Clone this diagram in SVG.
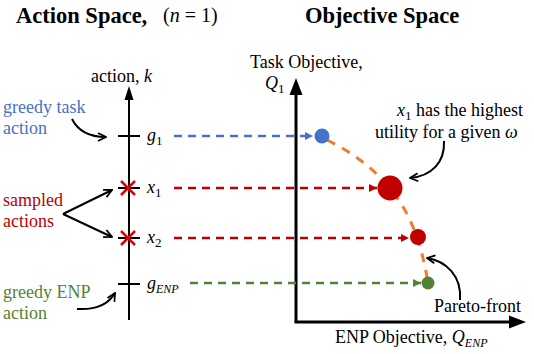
<svg xmlns="http://www.w3.org/2000/svg" width="534" height="354" viewBox="0 0 534 354" font-family="'Liberation Serif', 'Times New Roman', serif">
<defs>
<style>
text{font-family:'Liberation Serif','Times New Roman',serif;font-size:18px;fill:#000}
.title{font-weight:bold;font-size:22.5px}
.m{font-style:italic}
.sub{font-size:13px;font-style:normal}
.subi{font-size:12px;font-style:italic}
.blue{fill:#4472C4}
.red{fill:#C00000}
.green{fill:#548235}
.dash{fill:none;stroke-width:2.5;stroke-dasharray:8 6}
.ax{stroke:#000;fill:none}
.arr{stroke:#000;stroke-width:2;fill:none;marker-end:url(#v)}
.tick{stroke:#000;stroke-width:2}
.cross{stroke:#E00000;stroke-width:2.5}
</style>
<marker id="v" viewBox="0 0 10 10" refX="9" refY="5" markerWidth="5" markerHeight="5" orient="auto" markerUnits="strokeWidth">
<path d="M1,1 L9,5 L1,9" fill="none" stroke="#000" stroke-width="1.8"/>
</marker>
<marker id="tb" viewBox="0 0 10 10" refX="10" refY="5" markerWidth="3.4" markerHeight="3.4" orient="auto" markerUnits="strokeWidth">
<path d="M0,0 L10,5 L0,10 z" fill="#4472C4"/>
</marker>
<marker id="tr" viewBox="0 0 10 10" refX="10" refY="5" markerWidth="3.4" markerHeight="3.4" orient="auto" markerUnits="strokeWidth">
<path d="M0,0 L10,5 L0,10 z" fill="#C00000"/>
</marker>
<marker id="tg" viewBox="0 0 10 10" refX="10" refY="5" markerWidth="3.4" markerHeight="3.4" orient="auto" markerUnits="strokeWidth">
<path d="M0,0 L10,5 L0,10 z" fill="#548235"/>
</marker>
</defs>

<g id="titles" font-family="'Liberation Serif', serif">
<text class="title" x="16" y="23" font-family="'Liberation Serif', serif">Action Space,</text>
<text x="163" y="22" font-family="'Liberation Serif', serif" style="font-size:20px">(<tspan class="m">n</tspan> = 1)</text>
<text class="title" x="305" y="23" font-family="'Liberation Serif', serif">Objective Space</text>
</g>

<g id="action-axis">
<line class="ax" x1="129" y1="98" x2="129" y2="320" stroke-width="2"/>
<path d="M129,86 L133.5,100 L124.5,100 z" fill="#000"/>
<text x="91" y="82" font-family="'Liberation Serif', serif">action, <tspan class="m">k</tspan></text>
</g>

<g id="objective-axes">
<line class="ax" x1="296" y1="93" x2="296" y2="322" stroke-width="3"/>
<line class="ax" x1="294.5" y1="322" x2="512" y2="322" stroke-width="3"/>
<path d="M296,78 L302.5,95 L289.5,95 z" fill="#000"/>
<path d="M526,322 L509,315.5 L509,328.5 z" fill="#000"/>
<text x="250" y="68" font-family="'Liberation Serif', serif">Task Objective,</text>
<text class="m" x="265" y="89" font-family="'Liberation Serif', serif">Q<tspan class="sub" dy="4">1</tspan></text>
<text x="335" y="343" font-family="'Liberation Serif', serif">ENP Objective, <tspan class="m">Q</tspan><tspan class="subi" dy="4">ENP</tspan></text>
</g>

<g id="node-g1">
<line class="tick" x1="118" y1="136" x2="140" y2="136"/>
<text class="m" x="147" y="141" font-family="'Liberation Serif', serif">g<tspan class="sub" dy="4">1</tspan></text>
</g>
<g id="node-x1">
<line class="tick" x1="118" y1="188" x2="140" y2="188"/>
<line class="cross" x1="121" y1="181" x2="135" y2="195"/>
<line class="cross" x1="135" y1="181" x2="121" y2="195"/>
<text class="m" x="147" y="193" font-family="'Liberation Serif', serif">x<tspan class="sub" dy="4">1</tspan></text>
</g>
<g id="node-x2">
<line class="tick" x1="118" y1="238" x2="140" y2="238"/>
<line class="cross" x1="121" y1="231" x2="135" y2="245"/>
<line class="cross" x1="135" y1="231" x2="121" y2="245"/>
<text class="m" x="147" y="243" font-family="'Liberation Serif', serif">x<tspan class="sub" dy="4">2</tspan></text>
</g>
<g id="node-gENP">
<line class="tick" x1="118" y1="284" x2="140" y2="284"/>
<text class="m" x="147" y="289" font-family="'Liberation Serif', serif">g<tspan class="subi" dy="4">ENP</tspan></text>
</g>

<g id="labels-left" font-family="'Liberation Serif', serif">
<text class="blue" x="3" y="113" font-family="'Liberation Serif', serif">greedy task</text>
<text class="blue" x="3" y="134" font-family="'Liberation Serif', serif">action</text>
<text class="red" x="3" y="206" font-family="'Liberation Serif', serif">sampled</text>
<text class="red" x="3" y="227" font-family="'Liberation Serif', serif">actions</text>
<text class="green" x="3" y="298" font-family="'Liberation Serif', serif">greedy ENP</text>
<text class="green" x="3" y="319" font-family="'Liberation Serif', serif">action</text>
</g>

<g id="pareto-curve">
<path d="M327,140 C362,157 392,183 409,218 C418,237 424,258 428,283" fill="none" stroke="#ED7D31" stroke-width="3" stroke-dasharray="9 8"/>
</g>

<g id="point-g1"><circle cx="322" cy="136" r="7.5" fill="#4472C4"/></g>
<g id="point-x1"><circle cx="390" cy="188" r="12.5" fill="#C00000"/></g>
<g id="point-x2"><circle cx="418" cy="237" r="8" fill="#C00000"/></g>
<g id="point-gENP"><circle cx="428" cy="283" r="6.5" fill="#548235"/></g>

<g id="annotations">
<text x="397" y="116" font-family="'Liberation Serif', serif"><tspan class="m">x</tspan><tspan class="sub" dy="4">1</tspan><tspan dy="-4"> has the highest</tspan></text>
<text x="375" y="138" font-family="'Liberation Serif', serif">utility for a given <tspan class="m">ω</tspan></text>
<text x="434" y="312" font-family="'Liberation Serif', serif">Pareto-front</text>
</g>

<g id="connectors">
<line class="dash" x1="174" y1="136" x2="313" y2="136" stroke="#4472C4" marker-end="url(#tb)"/>
<line class="dash" x1="174" y1="188" x2="377" y2="188" stroke="#C00000" marker-end="url(#tr)"/>
<line class="dash" x1="174" y1="238" x2="409" y2="238" stroke="#C00000" marker-end="url(#tr)"/>
<line class="dash" x1="190" y1="283" x2="421" y2="283" stroke="#548235" marker-end="url(#tg)"/>
<path class="arr" d="M72,119 C78,131 90,137 106,137"/>
<path class="arr" d="M63,214 L112,190"/>
<path class="arr" d="M63,214 L112,237"/>
<path class="arr" d="M77,309 C95,310 108,305 115,293"/>
<path class="arr" d="M444,141 C445,162 432,176 410,178"/>
<path class="arr" d="M460,300 C462,276 446,261 427,258"/>
</g>
</svg>
